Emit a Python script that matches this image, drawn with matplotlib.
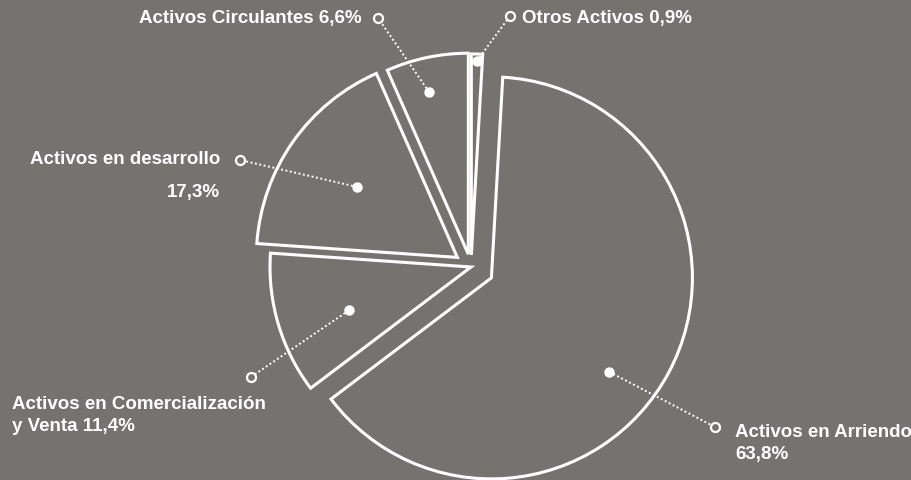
import matplotlib
matplotlib.use("Agg")
import matplotlib.pyplot as plt
import numpy as np

plt.rcParams["font.family"] = ["Liberation Sans", "DejaVu Sans"]

BG = "#757370"
FG = "white"
W, H = 912, 480

# composición de activos (%), en orden horario desde las 12
names = ["Otros Activos", "Activos en Arriendo", "Activos en Comercialización\ny Venta",
         "Activos en desarrollo", "Activos Circulantes"]
values = [0.9, 63.8, 11.4, 17.3, 6.6]
label_sep = [" ", "\n", " ", "\n", " "]

# separación de cada porción (fracción del radio)
explode = [0.06, 0.115, 0.0, 0.083, 0.065]
# punto interior: fracción del radio y giro respecto al ángulo medio
dot_r = [0.965, 0.75, 0.645, 0.61, 0.83]
dot_dt = [0.0, -10.5, 3.0, 0.0, 1.7]
# marcador hueco y texto (píxeles, origen arriba a la izquierda)
ring_xy = [(510, 16), (715, 427), (251, 377), (240, 160), (378, 18)]
text_xy = [(522, 18), (735, 433), (12, 405), (220, 160), (362, 18)]
text_ha = ["left", "left", "left", "right", "right"]
line_gap = [22, 22, 22, 32, 22]

fig = plt.figure(figsize=(W / 100, H / 100), dpi=100)
fig.patch.set_facecolor(BG)
ax = fig.add_axes([0, 0, 1, 1])
ax.set_facecolor(BG)

R = 201
# en ax.pie el explode va en unidades de datos, no relativo al radio
wedges, _ = ax.pie(values, radius=R, center=(471, H - 267), startangle=90,
                   counterclock=False, explode=[e * R for e in explode],
                   wedgeprops=dict(facecolor="none", edgecolor=FG, linewidth=2.2,
                                   joinstyle="miter"))
ax.set_xlim(0, W)
ax.set_ylim(0, H)
ax.set_aspect("equal")
ax.axis("off")

for i, w in enumerate(wedges):
    mid = np.deg2rad((w.theta1 + w.theta2) / 2 + dot_dt[i])
    cx, cy = w.center
    px = cx + dot_r[i] * w.r * np.cos(mid)
    py = cy + dot_r[i] * w.r * np.sin(mid)
    rx, ry = ring_xy[i][0], H - ring_xy[i][1]
    ax.plot([px, rx], [py, ry], color=FG, lw=1.4, ls=(0, (1, 1.3)), zorder=3)
    ax.plot(px, py, "o", ms=6.5, color=FG, mec=FG, zorder=4)
    ax.plot(rx, ry, "o", ms=6.5, mfc=BG, mec=FG, mew=1.6, zorder=4)

    pct = f"{values[i]:.1f}".replace(".", ",") + "%"
    lines = (names[i] + label_sep[i] + pct).split("\n")
    tx, ty = text_xy[i]
    for k, ln in enumerate(lines):
        ax.text(tx, H - ty - k * line_gap[i], ln, color=FG, fontsize=13.5,
                fontweight="bold", ha=text_ha[i], va="center")

fig.savefig("out.png", dpi=100, facecolor=BG)
